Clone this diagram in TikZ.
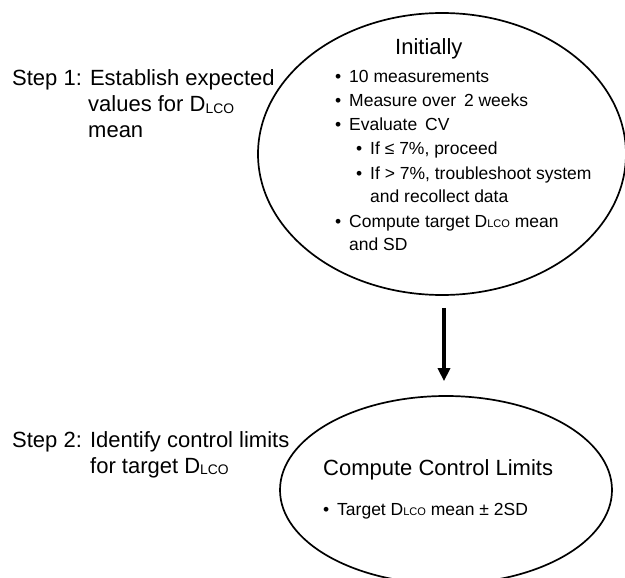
\documentclass[tikz,border=0pt]{standalone}
\usepackage{fontspec}
\setmainfont{Liberation Sans}
\usetikzlibrary{shapes.geometric,arrows.meta}
\newcommand{\lcosub}{D\raisebox{-0.1ex}{\scalebox{0.63}{LCO}}}
\tikzset{
  big/.style={font=\fontsize{22}{26}\selectfont, inner sep=0pt, anchor=base west},
  small/.style={font=\fontsize{17.5}{20}\selectfont, inner sep=0pt, anchor=base west},
  oval/.style={draw, ellipse, line width=1.7pt, inner sep=0pt},
  flow/.style={line width=4pt, -{Triangle[width=12pt,length=13pt]}},
}
\begin{document}
\begin{tikzpicture}[x=1pt,y=-1pt]
\clip (0,0) rectangle (625,578);
\fill[white] (0,0) rectangle (625,578);
% ellipses
\node[oval, minimum width=368pt, minimum height=282pt] (top) at (442,154) {};
\node[oval, minimum width=332pt, minimum height=188pt] (bot) at (446,490) {};
% arrow
\draw[flow, shorten <=12pt, shorten >=14pt] ([xshift=2pt]top.south) -- ([xshift=-2pt]bot.north);
% step 1 label
\node[big] (s1a) at (12,86) {Step 1: Establish expected};
\node[big] (s1b) at (88,112) {values for \lcosub};
\node[big] (s1c) at (88,138) {mean};
% step 2 label
\node[big] (s2a) at (12,447) {Step 2: Identify control limits};
\node[big] (s2b) at (90,473) {for target \lcosub};
% top ellipse content
\node[big] (ini) at (395,55) {Initially};
\node[small] (b1) at (335,83) {•};
\node[small] (t1) at (349,83) {10 measurements};
\node[small] (b2) at (335,107) {•};
\node[small] (t2) at (349,107) {Measure over\hspace{3pt} 2 weeks};
\node[small] (b3) at (335,131) {•};
\node[small] (t3) at (349,131) {Evaluate\hspace{3pt} CV};
\node[small] (b4) at (356,155) {•};
\node[small] (t4) at (370,155) {If ≤ 7\%, proceed};
\node[small] (b5) at (356,179) {•};
\node[small] (t5) at (370,179) {If > 7\%, troubleshoot system};
\node[small] (t6) at (370,203) {and recollect data};
\node[small] (b7) at (335,227) {•};
\node[small] (t7) at (349,227) {Compute target \lcosub{} mean};
\node[small] (t8) at (349,251) {and SD};
% bottom ellipse content
\node[big] (ccl) at (323,475) {Compute Control Limits};
\node[small] (b9) at (323,515) {•};
\node[small] (t9) at (337,515) {Target \lcosub{} mean ± 2SD};
\end{tikzpicture}
\end{document}
